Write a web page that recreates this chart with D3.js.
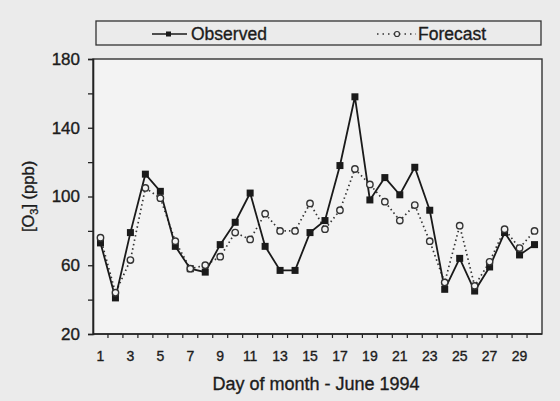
<!DOCTYPE html>
<html lang="en">
<head>
  <meta charset="UTF-8">
  <title>Ozone - June 1994</title>
  <script src="https://d3js.org/d3.v7.min.js"></script>
  <style>
    body { margin: 0; background: #ebebeb; }
    svg text {
      font-family: "Liberation Sans", Arial, sans-serif;
      fill: #1c1c1c;
      stroke: #1c1c1c;
      stroke-width: 0.35;
    }
  </style>
</head>
<body>
  <div class="canvas"></div>
  <script>
    const width = 560;
    const height = 401;

    // data
    const days = d3.range(1, 31);
    const observed = [73, 41, 79, 113, 103, 71, 58, 56, 72, 85, 102, 71, 57, 57, 79,
                      86, 118, 158, 98, 111, 101, 117, 92, 46, 64, 45, 59, 79, 66, 72];
    const forecast = [76, 44, 63, 105, 99, 74, 58, 60, 65, 79, 75, 90, 80, 80, 96,
                      81, 92, 116, 107, 97, 86, 95, 74, 50, 83, 48, 62, 81, 70, 80];
    const yTicks = [20, 40, 60, 80, 100, 120, 140, 160, 180];
    const xLabels = [1, 3, 5, 7, 9, 11, 13, 15, 17, 19, 21, 23, 25, 27, 29];

    const [ml, mr, mt, mb] = [93, 18, 59, 67];

    const svg = d3.select('.canvas')
      .append('svg')
      .attr('width', width)
      .attr('height', height)

    const x = d3.scaleBand()
      .domain(days)
      .range([ml, width - mr])
      .padding(0)

    const y = d3.scaleLinear()
      .domain([20, 180])
      .range([height - mb, mt])

    const cx = d => x(d) + x.bandwidth() / 2

    // plot frame
    svg.append('rect')
      .attr('x', ml)
      .attr('y', mt)
      .attr('width', width - mr - ml)
      .attr('height', height - mb - mt)
      .attr('fill', '#f3f3f3')
      .attr('stroke', '#333')
      .attr('stroke-width', 1.4)

    // y axis
    const yAxis = d3.axisLeft(y)
      .tickValues(yTicks)
      .tickSize(5)
      .tickPadding(8)
      .tickFormat(d => (d - 20) % 40 === 0 ? d : '')
    const gy = svg.append('g')
      .attr('transform', `translate(${ml},0)`)
      .call(yAxis)
    gy.select('.domain').attr('stroke', '#222').attr('stroke-width', 1.6)
    gy.selectAll('line').attr('stroke', '#222').attr('stroke-width', 1.3)
    gy.selectAll('text').attr('font-size', 17).style('fill', '#1c1c1c')

    // x axis: ticks at day boundaries, labels at day centres
    const gx = svg.append('g')
    gx.append('line')
      .attr('x1', ml).attr('x2', width - mr)
      .attr('y1', y(20)).attr('y2', y(20))
      .attr('stroke', '#222').attr('stroke-width', 1.6)
    gx.selectAll('.tick')
      .data(days.slice(1))
      .join('line')
      .attr('x1', d => x(d)).attr('x2', d => x(d))
      .attr('y1', y(20)).attr('y2', y(20) + 4)
      .attr('stroke', '#222').attr('stroke-width', 1.2)
    gx.selectAll('text')
      .data(xLabels)
      .join('text')
      .attr('x', cx)
      .attr('y', y(20) + 27)
      .attr('text-anchor', 'middle')
      .attr('font-size', 14)
      .text(d => d)

    // axis titles
    svg.append('text')
      .attr('x', 316)
      .attr('y', 390)
      .attr('text-anchor', 'middle')
      .attr('font-size', 18)
      .text('Day of month - June 1994')

    const yt = svg.append('text')
      .attr('transform', `translate(34, ${(y(20) + y(180)) / 2}) rotate(-90)`)
      .attr('text-anchor', 'middle')
      .attr('font-size', 16.5)
    yt.append('tspan').text('[O')
    yt.append('tspan').attr('font-size', 11).attr('dy', 4).text('3')
    yt.append('tspan').attr('dy', -4).text('] (ppb)')

    // forecast series
    const line = vals => d3.line()
      .x((d, i) => cx(days[i]))
      .y(d => y(d))(vals)

    svg.append('path')
      .attr('d', line(forecast))
      .attr('fill', 'none')
      .attr('stroke', '#333')
      .attr('stroke-width', 1.7)
      .attr('stroke-dasharray', '1.5,3')

    svg.append('path')
      .attr('d', line(observed))
      .attr('fill', 'none')
      .attr('stroke', '#1a1a1a')
      .attr('stroke-width', 1.8)

    svg.selectAll('.obs')
      .data(observed)
      .join('rect')
      .attr('x', (d, i) => cx(days[i]) - 3.5)
      .attr('y', d => y(d) - 3.5)
      .attr('width', 7)
      .attr('height', 7)
      .attr('fill', '#1a1a1a')

    svg.selectAll('.fc')
      .data(forecast)
      .join('circle')
      .attr('cx', (d, i) => cx(days[i]))
      .attr('cy', d => y(d))
      .attr('r', 3.2)
      .attr('fill', '#f3f3f3')
      .attr('stroke', '#333')
      .attr('stroke-width', 1.4)

    // legend
    const lg = svg.append('g')
    lg.append('rect')
      .attr('x', 96).attr('y', 21)
      .attr('width', 445).attr('height', 24)
      .attr('fill', 'none')
      .attr('stroke', '#333')
      .attr('stroke-width', 1.3)

    lg.append('line')
      .attr('x1', 152).attr('x2', 187).attr('y1', 34).attr('y2', 34)
      .attr('stroke', '#1a1a1a').attr('stroke-width', 1.7)
    lg.append('rect')
      .attr('x', 166).attr('y', 31.5).attr('width', 5).attr('height', 5)
      .attr('fill', '#1a1a1a')
    lg.append('text')
      .attr('x', 191).attr('y', 40)
      .attr('font-size', 17.5)
      .text('Observed')

    lg.append('line')
      .attr('x1', 377).attr('x2', 416).attr('y1', 34).attr('y2', 34)
      .attr('stroke', '#333').attr('stroke-width', 1.4)
      .attr('stroke-dasharray', '1.5,4')
    lg.append('circle')
      .attr('cx', 397).attr('cy', 34).attr('r', 2.5)
      .attr('fill', '#f3f3f3').attr('stroke', '#333').attr('stroke-width', 1.2)
    lg.append('text')
      .attr('x', 418).attr('y', 40)
      .attr('font-size', 17.5)
      .text('Forecast')
  </script>
</body>
</html>
